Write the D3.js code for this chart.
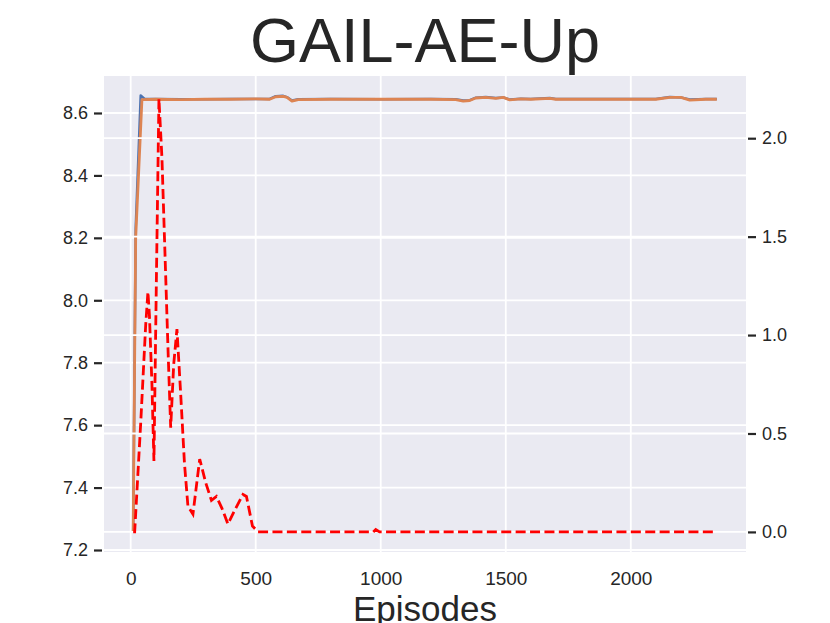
<html>
<script src='https://d3js.org/d3.v7.min.js'></script>
<style>
body {margin:0; background:white;}
text {font-family: 'Liberation Sans', Arial, sans-serif; fill:#262626;}
.grid line {stroke:white; stroke-width:1.8;}
</style>
<body onload='init()'>
<svg width=830 height=623></svg>
<script>
// values
var titleText = 'GAIL-AE-Up';
var xLabel = 'Episodes';
var xTicks = [0, 500, 1000, 1500, 2000];
var leftTicks = [7.2, 7.4, 7.6, 7.8, 8.0, 8.2, 8.4, 8.6];
var rightTicks = [0.0, 0.5, 1.0, 1.5, 2.0];

var blueEpisodes = [10, 20, 40, 55, 100, 200, 300, 400, 500, 556, 580, 610, 625, 645, 670, 800, 1000, 1200, 1300, 1330, 1356, 1380, 1420, 1460, 1490, 1516, 1560, 1600, 1676, 1700, 1900, 2100, 2156, 2200, 2236, 2300, 2344];
var blueValues   = [7.259, 8.23, 8.656, 8.646, 8.645, 8.644, 8.644, 8.645, 8.645, 8.645, 8.654, 8.655, 8.651, 8.640, 8.644, 8.645, 8.644, 8.645, 8.644, 8.640, 8.641, 8.649, 8.651, 8.648, 8.650, 8.643, 8.646, 8.645, 8.648, 8.645, 8.645, 8.645, 8.651, 8.650, 8.643, 8.645, 8.645];

var orangeEpisodes = [10, 20, 45, 100, 200, 300, 400, 500, 556, 580, 610, 625, 645, 670, 800, 1000, 1200, 1300, 1330, 1356, 1380, 1420, 1460, 1490, 1516, 1560, 1600, 1676, 1700, 1900, 2100, 2156, 2200, 2236, 2300, 2344];
var orangeValues   = [7.259, 8.20, 8.643, 8.644, 8.643, 8.644, 8.644, 8.645, 8.644, 8.652, 8.653, 8.650, 8.638, 8.643, 8.644, 8.644, 8.644, 8.643, 8.638, 8.640, 8.648, 8.650, 8.647, 8.650, 8.642, 8.645, 8.644, 8.647, 8.644, 8.644, 8.644, 8.650, 8.650, 8.641, 8.644, 8.644];

var redEpisodes = [10, 16, 40, 60, 69, 75, 85, 93, 103, 113, 125, 140, 150, 160, 172, 185, 200, 215, 229, 249, 276, 300, 323, 343, 365, 389, 420, 449, 463, 487, 509, 970, 980, 995, 2344];
var redValues   = [0.0, 0.0, 0.55, 1.05, 1.22, 1.10, 0.75, 0.36, 1.30, 2.20, 1.90, 1.30, 0.90, 0.53, 0.85, 1.03, 0.70, 0.35, 0.13, 0.09, 0.37, 0.25, 0.16, 0.18, 0.12, 0.04, 0.12, 0.19, 0.18, 0.03, 0.0, 0.0, 0.012, 0.0, 0.0];

function init() {
var svg = d3.select('svg');
var left = 104, right = 746, top = 76, bottom = 552;

var x = d3.scaleLinear([-106.7, 2460.7], [left, right]);
var yL = d3.scaleLinear([7.1936, 8.7185], [bottom, top]);
var yR = d3.scaleLinear([-0.102, 2.316], [bottom, top]);

svg.append('rect')
  .attr('x', left).attr('y', top)
  .attr('width', right - left).attr('height', bottom - top)
  .attr('fill', '#eaeaf2');

// left axis grid + vertical grid
svg.append('g').attr('class', 'grid')
  .selectAll('line').data(xTicks).enter().append('line')
  .attr('x1', function(d) {return x(d);}).attr('x2', function(d) {return x(d);})
  .attr('y1', top).attr('y2', bottom);
svg.append('g').attr('class', 'grid')
  .selectAll('line').data(leftTicks).enter().append('line')
  .attr('x1', left).attr('x2', right)
  .attr('y1', function(d) {return yL(d);}).attr('y2', function(d) {return yL(d);});

var lineL = d3.line().x(function(d) {return x(d[0]);}).y(function(d) {return yL(d[1]);});
var lineR = d3.line().x(function(d) {return x(d[0]);}).y(function(d) {return yR(d[1]);});

svg.append('path')
  .attr('d', lineL(d3.zip(blueEpisodes, blueValues)))
  .attr('fill', 'none').attr('stroke', '#4c72b0').attr('stroke-width', 2.5)
  .attr('stroke-linejoin', 'round');
svg.append('path')
  .attr('d', lineL(d3.zip(orangeEpisodes, orangeValues)))
  .attr('fill', 'none').attr('stroke', '#dd8452').attr('stroke-width', 2.8)
  .attr('stroke-linejoin', 'round');

// twin axis grid drawn on top, like matplotlib
svg.append('g').attr('class', 'grid')
  .selectAll('line').data(rightTicks).enter().append('line')
  .attr('x1', left).attr('x2', right)
  .attr('y1', function(d) {return yR(d);}).attr('y2', function(d) {return yR(d);});

svg.append('path')
  .attr('d', lineR(d3.zip(redEpisodes, redValues)))
  .attr('fill', 'none').attr('stroke', 'red').attr('stroke-width', 2.8)
  .attr('stroke-dasharray', '10,4.4');

// axes
svg.append('g')
  .attr('transform', 'translate(' + (left - 2) + ',0)')
  .call(d3.axisLeft(yL).tickValues(leftTicks).tickFormat(d3.format('.1f')).tickSize(8).tickPadding(6))
  .call(function(g) {g.select('.domain').remove();})
  .call(function(g) {g.selectAll('line').attr('stroke', '#262626').attr('stroke-width', 2.2);})
  .call(function(g) {g.selectAll('text').attr('font-size', 18).attr('fill', '#262626');});

svg.append('g')
  .attr('transform', 'translate(' + (right + 2) + ',0)')
  .call(d3.axisRight(yR).tickValues(rightTicks).tickFormat(d3.format('.1f')).tickSize(8).tickPadding(6))
  .call(function(g) {g.select('.domain').remove();})
  .call(function(g) {g.selectAll('line').attr('stroke', '#262626').attr('stroke-width', 2.2);})
  .call(function(g) {g.selectAll('text').attr('font-size', 18).attr('fill', '#262626');});

svg.append('g')
  .attr('transform', 'translate(0,' + bottom + ')')
  .call(d3.axisBottom(x).tickValues(xTicks).tickFormat(d3.format('d')).tickSize(0).tickPadding(20))
  .call(function(g) {g.select('.domain').remove();})
  .call(function(g) {g.selectAll('text').attr('font-size', 19).attr('fill', '#262626');});

svg.append('text')
  .attr('x', (left + right) / 2).attr('y', 62)
  .attr('text-anchor', 'middle').attr('font-size', 63)
  .text(titleText);

svg.append('text')
  .attr('x', (left + right) / 2).attr('y', 621)
  .attr('text-anchor', 'middle').attr('font-size', 35)
  .text(xLabel);
}
</script>
</body>
</html>
